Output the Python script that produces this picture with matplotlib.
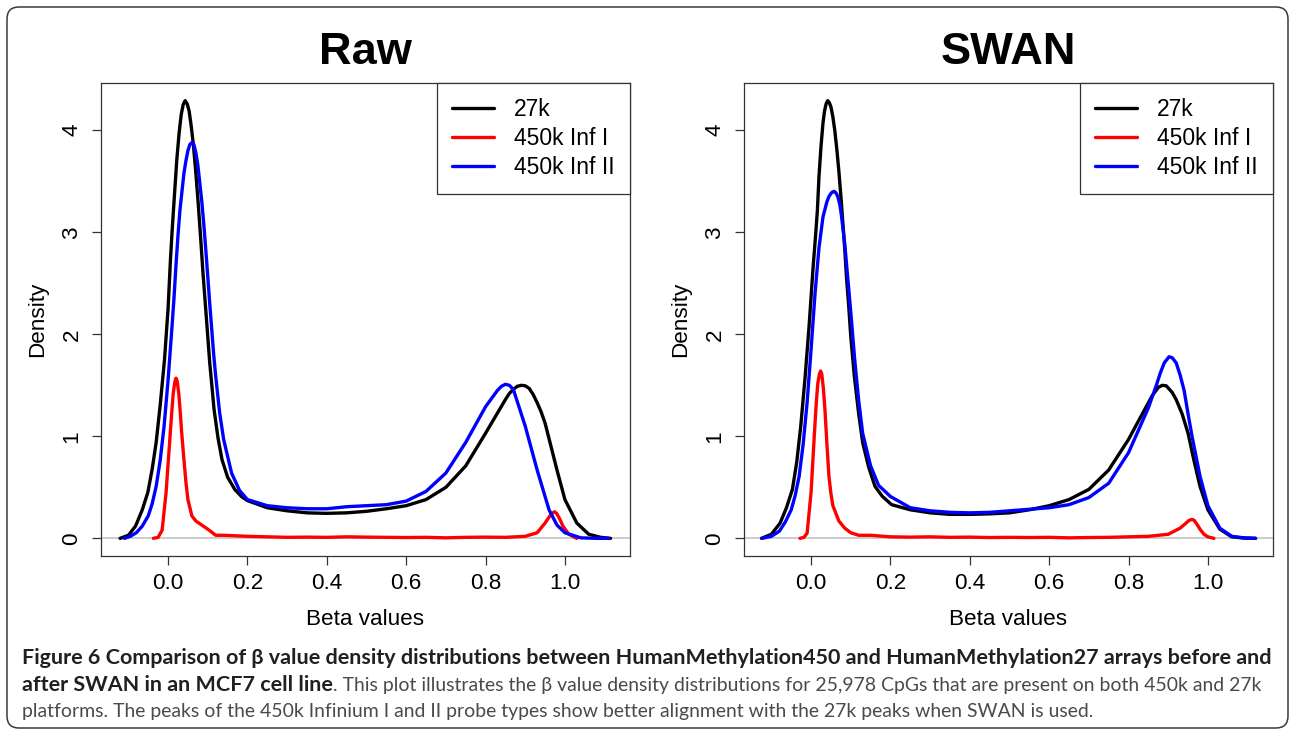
import matplotlib
matplotlib.use("Agg")
import matplotlib.pyplot as plt
from matplotlib.patches import FancyBboxPatch
from matplotlib.transforms import IdentityTransform

# values (beta value, density)
raw_27k_x = [-0.121, -0.10, -0.082, -0.065, -0.051, -0.04, -0.03, -0.02, -0.009, 0.0, 0.006, 0.01,
             0.015, 0.022, 0.028, 0.033, 0.038, 0.043, 0.048, 0.053, 0.058, 0.064, 0.07, 0.076,
             0.082, 0.088, 0.095, 0.105, 0.116, 0.126, 0.136, 0.15, 0.168, 0.185, 0.2, 0.25, 0.3,
             0.35, 0.4, 0.45, 0.5, 0.55, 0.6, 0.65, 0.7, 0.75, 0.8, 0.85, 0.86, 0.87, 0.88, 0.89,
             0.90, 0.91, 0.92, 0.93, 0.94, 0.95, 0.965, 0.98, 1.0, 1.03, 1.06, 1.09, 1.115]
raw_27k_y = [0.0, 0.03, 0.12, 0.28, 0.45, 0.68, 0.94, 1.3, 1.75, 2.25, 2.73, 3.0,
             3.3, 3.71, 3.98, 4.15, 4.25, 4.29, 4.26, 4.19, 4.05, 3.85, 3.58, 3.28,
             2.95, 2.60, 2.24, 1.72, 1.26, 0.98, 0.77, 0.6, 0.48, 0.41, 0.37, 0.3, 0.27,
             0.25, 0.245, 0.25, 0.265, 0.29, 0.32, 0.38, 0.5, 0.71, 1.03, 1.36, 1.42, 1.46, 1.49, 1.50,
             1.495, 1.47, 1.41, 1.33, 1.24, 1.13, 0.9, 0.67, 0.38, 0.15, 0.04, 0.01, 0.0]

raw_inf1_x = [-0.037, -0.025, -0.015, -0.005, 0.005, 0.009, 0.013, 0.017, 0.02, 0.023, 0.027, 0.031,
              0.034, 0.04, 0.045, 0.05, 0.06, 0.07, 0.085, 0.10, 0.12, 0.14, 0.2, 0.25, 0.3, 0.35,
              0.4, 0.45, 0.5, 0.55, 0.6, 0.65, 0.7, 0.75, 0.8, 0.85, 0.9, 0.93, 0.95, 0.962, 0.969,
              0.974, 0.979, 0.987, 0.995, 1.01, 1.03]
raw_inf1_y = [0.0, 0.01, 0.08, 0.45, 1.0, 1.22, 1.42, 1.53, 1.57, 1.54, 1.42, 1.22,
              1.05, 0.77, 0.55, 0.38, 0.22, 0.17, 0.13, 0.09, 0.03, 0.03, 0.02, 0.015, 0.01, 0.012,
              0.01, 0.015, 0.012, 0.01, 0.008, 0.01, 0.005, 0.01, 0.012, 0.01, 0.02, 0.055, 0.15, 0.22, 0.25,
              0.26, 0.245, 0.19, 0.12, 0.04, 0.0]

raw_inf2_x = [-0.11, -0.095, -0.08, -0.065, -0.05, -0.04, -0.03, -0.02, -0.01, 0.0, 0.01, 0.015,
              0.02, 0.025, 0.03, 0.035, 0.04, 0.045, 0.05, 0.055, 0.06, 0.065, 0.07, 0.075, 0.08,
              0.085, 0.09, 0.095, 0.10, 0.105, 0.11, 0.115, 0.12, 0.13, 0.14, 0.16, 0.18, 0.2, 0.25,
              0.3, 0.35, 0.4, 0.45, 0.5, 0.55, 0.6, 0.65, 0.7, 0.75, 0.8, 0.83, 0.84, 0.85, 0.86,
              0.87, 0.88, 0.89, 0.9, 0.93, 0.96, 0.98, 1.0, 1.04, 1.08, 1.11]
raw_inf2_y = [0.0, 0.02, 0.055, 0.12, 0.22, 0.34, 0.51, 0.76, 1.10, 1.55, 2.08, 2.36,
              2.68, 2.97, 3.22, 3.40, 3.58, 3.70, 3.80, 3.86, 3.88, 3.86, 3.78, 3.66, 3.48,
              3.30, 3.08, 2.83, 2.57, 2.30, 2.05, 1.80, 1.59, 1.23, 0.97, 0.64, 0.47, 0.38, 0.32,
              0.30, 0.29, 0.29, 0.31, 0.32, 0.33, 0.365, 0.46, 0.64, 0.94, 1.29, 1.45, 1.49, 1.51, 1.50,
              1.46, 1.34, 1.22, 1.10, 0.67, 0.28, 0.13, 0.055, 0.005, 0.0, 0.0]

swan_27k_x = [-0.125, -0.10, -0.078, -0.062, -0.047, -0.036, -0.026, -0.015, -0.005, 0.005, 0.012,
              0.016, 0.02, 0.025, 0.03, 0.034, 0.038, 0.042, 0.046, 0.05, 0.055, 0.06, 0.065, 0.07,
              0.075, 0.08, 0.085, 0.089, 0.095, 0.1, 0.109, 0.12, 0.13, 0.145, 0.161, 0.18, 0.203,
              0.25, 0.3, 0.35, 0.4, 0.45, 0.5, 0.55, 0.6, 0.65, 0.7, 0.75, 0.8, 0.85, 0.86, 0.875,
              0.885, 0.895, 0.91, 0.92, 0.935, 0.95, 0.965, 0.98, 1.0, 1.03, 1.06, 1.09, 1.12]
swan_27k_y = [0.0, 0.04, 0.15, 0.3, 0.48, 0.75, 1.10, 1.58, 2.08, 2.65, 3.0,
              3.22, 3.55, 3.84, 4.07, 4.19, 4.26, 4.29, 4.27, 4.23, 4.13, 3.99, 3.81, 3.60,
              3.36, 3.10, 2.83, 2.57, 2.27, 1.98, 1.59, 1.22, 0.94, 0.7, 0.51, 0.41, 0.33,
              0.28, 0.25, 0.235, 0.235, 0.24, 0.25, 0.28, 0.32, 0.38, 0.48, 0.67, 0.97, 1.33, 1.40, 1.48,
              1.50, 1.495, 1.43, 1.36, 1.22, 1.03, 0.76, 0.51, 0.28, 0.09, 0.015, 0.003, 0.0]

swan_inf1_x = [-0.028, -0.018, -0.01, 0.0, 0.008, 0.013, 0.017, 0.021, 0.024, 0.027, 0.031, 0.035,
               0.04, 0.045, 0.05, 0.055, 0.07, 0.085, 0.10, 0.12, 0.15, 0.2, 0.25, 0.3, 0.35, 0.4,
               0.45, 0.5, 0.55, 0.6, 0.65, 0.7, 0.75, 0.8, 0.85, 0.9, 0.93, 0.945, 0.952, 0.959,
               0.965, 0.972, 0.98, 0.99, 1.0, 1.015]
swan_inf1_y = [0.0, 0.01, 0.05, 0.45, 1.0, 1.32, 1.52, 1.61, 1.64, 1.61, 1.47, 1.26,
               0.92, 0.61, 0.44, 0.32, 0.17, 0.1, 0.055, 0.03, 0.03, 0.015, 0.012, 0.015, 0.01, 0.012,
               0.008, 0.01, 0.008, 0.01, 0.005, 0.008, 0.01, 0.015, 0.02, 0.04, 0.1, 0.15, 0.175, 0.185,
               0.178, 0.14, 0.09, 0.04, 0.015, 0.0]

swan_inf2_x = [-0.123, -0.10, -0.08, -0.065, -0.05, -0.04, -0.03, -0.02, -0.01, 0.0, 0.01, 0.02,
               0.03, 0.04, 0.045, 0.05, 0.054, 0.058, 0.062, 0.065, 0.068, 0.072, 0.076, 0.08, 0.085,
               0.09, 0.10, 0.11, 0.12, 0.13, 0.15, 0.17, 0.2, 0.25, 0.3, 0.35, 0.4, 0.45, 0.5, 0.55,
               0.6, 0.65, 0.7, 0.75, 0.8, 0.85, 0.87, 0.88, 0.89, 0.902, 0.91, 0.92, 0.93, 0.94, 0.95,
               0.96, 0.98, 1.0, 1.03, 1.06, 1.09, 1.12]
swan_inf2_y = [0.0, 0.02, 0.07, 0.16, 0.28, 0.42, 0.61, 0.92, 1.33, 1.85, 2.40, 2.85,
               3.15, 3.30, 3.35, 3.38, 3.395, 3.40, 3.39, 3.37, 3.34, 3.28, 3.18, 3.05, 2.88,
               2.66, 2.22, 1.75, 1.35, 1.03, 0.71, 0.52, 0.41, 0.30, 0.27, 0.255, 0.25, 0.255, 0.27, 0.285,
               0.30, 0.33, 0.40, 0.54, 0.84, 1.28, 1.50, 1.62, 1.72, 1.78, 1.77, 1.72, 1.60, 1.45, 1.22,
               1.0, 0.61, 0.32, 0.10, 0.02, 0.005, 0.0]

series_names = ['27k', '450k Inf I', '450k Inf II']
series_colors = ['black', 'red', 'blue']
panel_titles = ['Raw', 'SWAN']
x_ticks = [0.0, 0.2, 0.4, 0.6, 0.8, 1.0]
x_tick_labels = ['0.0', '0.2', '0.4', '0.6', '0.8', '1.0']
y_ticks = [0, 1, 2, 3, 4]

panels = [
    [(raw_27k_x, raw_27k_y), (raw_inf1_x, raw_inf1_y), (raw_inf2_x, raw_inf2_y)],
    [(swan_27k_x, swan_27k_y), (swan_inf1_x, swan_inf1_y), (swan_inf2_x, swan_inf2_y)],
]

caption_bold_1 = ('Figure 6 Comparison of \u03b2 value density distributions between '
                  'HumanMethylation450 and HumanMethylation27 arrays before and')
caption_bold_2 = 'after SWAN in an MCF7 cell line'
caption_rest_2 = ('. This plot illustrates the \u03b2 value density distributions for 25,978 CpGs '
                  'that are present on both 450k and 27k')
caption_3 = ('platforms. The peaks of the 450k Infinium I and II probe types show better '
             'alignment with the 27k peaks when SWAN is used.')

plt.rcParams['font.family'] = ['Liberation Sans', 'DejaVu Sans']

W, H = 1290, 730
fig = plt.figure(figsize=(W / 100, H / 100), dpi=100)

frame_col = '#333333'
ax_lefts = [101, 744]
for i, lines in enumerate(panels):
    ax = fig.add_axes([ax_lefts[i] / W, (H - 556) / H, 529 / W, 473 / H])
    ax.axhline(0, color='#bebebe', lw=1.1, zorder=1)
    for (xs, ys), name, col in zip(lines, series_names, series_colors):
        ax.plot(xs, ys, color=col, lw=2.4, label=name, zorder=2,
                solid_joinstyle='round', solid_capstyle='round')
    ax.set_xlim(-0.169, 1.164)
    ax.set_ylim(-0.173, 4.463)
    ax.set_xticks(x_ticks)
    ax.set_xticklabels(x_tick_labels)
    ax.set_yticks(y_ticks)
    ax.tick_params(axis='both', direction='out', length=6.3, width=0.9, color=frame_col,
                   labelsize=16.2, labelcolor='black')
    ax.tick_params(axis='x', pad=6)
    ax.tick_params(axis='y', pad=7, labelrotation=90)
    for lbl in ax.get_yticklabels():
        lbl.set_verticalalignment('center')
    for sp in ax.spines.values():
        sp.set_color(frame_col)
        sp.set_linewidth(0.9)
    ax.set_xlabel('Beta values', fontsize=16.2, labelpad=11)
    ax.set_ylabel('Density', fontsize=16.2, labelpad=10)
    ax.set_title(panel_titles[i], fontsize=32.5, fontweight='bold', pad=13.5)
    leg = ax.legend(loc='upper right', borderaxespad=0, fancybox=False, framealpha=1,
                    edgecolor=frame_col, fontsize=16.5, handlelength=1.83, handletextpad=0.87,
                    labelspacing=0.245, borderpad=0.67)
    leg.get_frame().set_linewidth(0.9)

# rounded border around the whole figure
border = FancyBboxPatch((7, 2), W - 9, H - 9, boxstyle='round,pad=0,rounding_size=12',
                        transform=IdentityTransform(), fill=False, edgecolor='#3a3a3a', lw=1.1)
fig.patches.append(border)

# caption: justified lines are fitted to the text width
renderer = fig.canvas.get_renderer()
cap_kw = dict(family=['Lato', 'Open Sans', 'DejaVu Sans'], va='baseline', ha='left')
t1 = fig.text(22 / W, (H - 664) / H, caption_bold_1, fontsize=14, fontweight='bold',
              color='#231f20', **cap_kw)
w1 = t1.get_window_extent(renderer).width
bold_size = 14 * 1256 / w1
t1.set_fontsize(bold_size)

t2 = fig.text(22 / W, (H - 691) / H, caption_bold_2, fontsize=bold_size, fontweight='bold',
              color='#231f20', **cap_kw)
x2 = t2.get_window_extent(renderer).x1
t2b = fig.text(x2 / W, (H - 691) / H, caption_rest_2, fontsize=bold_size, color='#4a4a4a', **cap_kw)
w2 = t2b.get_window_extent(renderer).width
reg_size = bold_size * (1263 - x2) / w2
t2b.set_fontsize(reg_size)
fig.text(22 / W, (H - 717) / H, caption_3, fontsize=reg_size, color='#4a4a4a', **cap_kw)

fig.savefig('out.png', dpi=100)
